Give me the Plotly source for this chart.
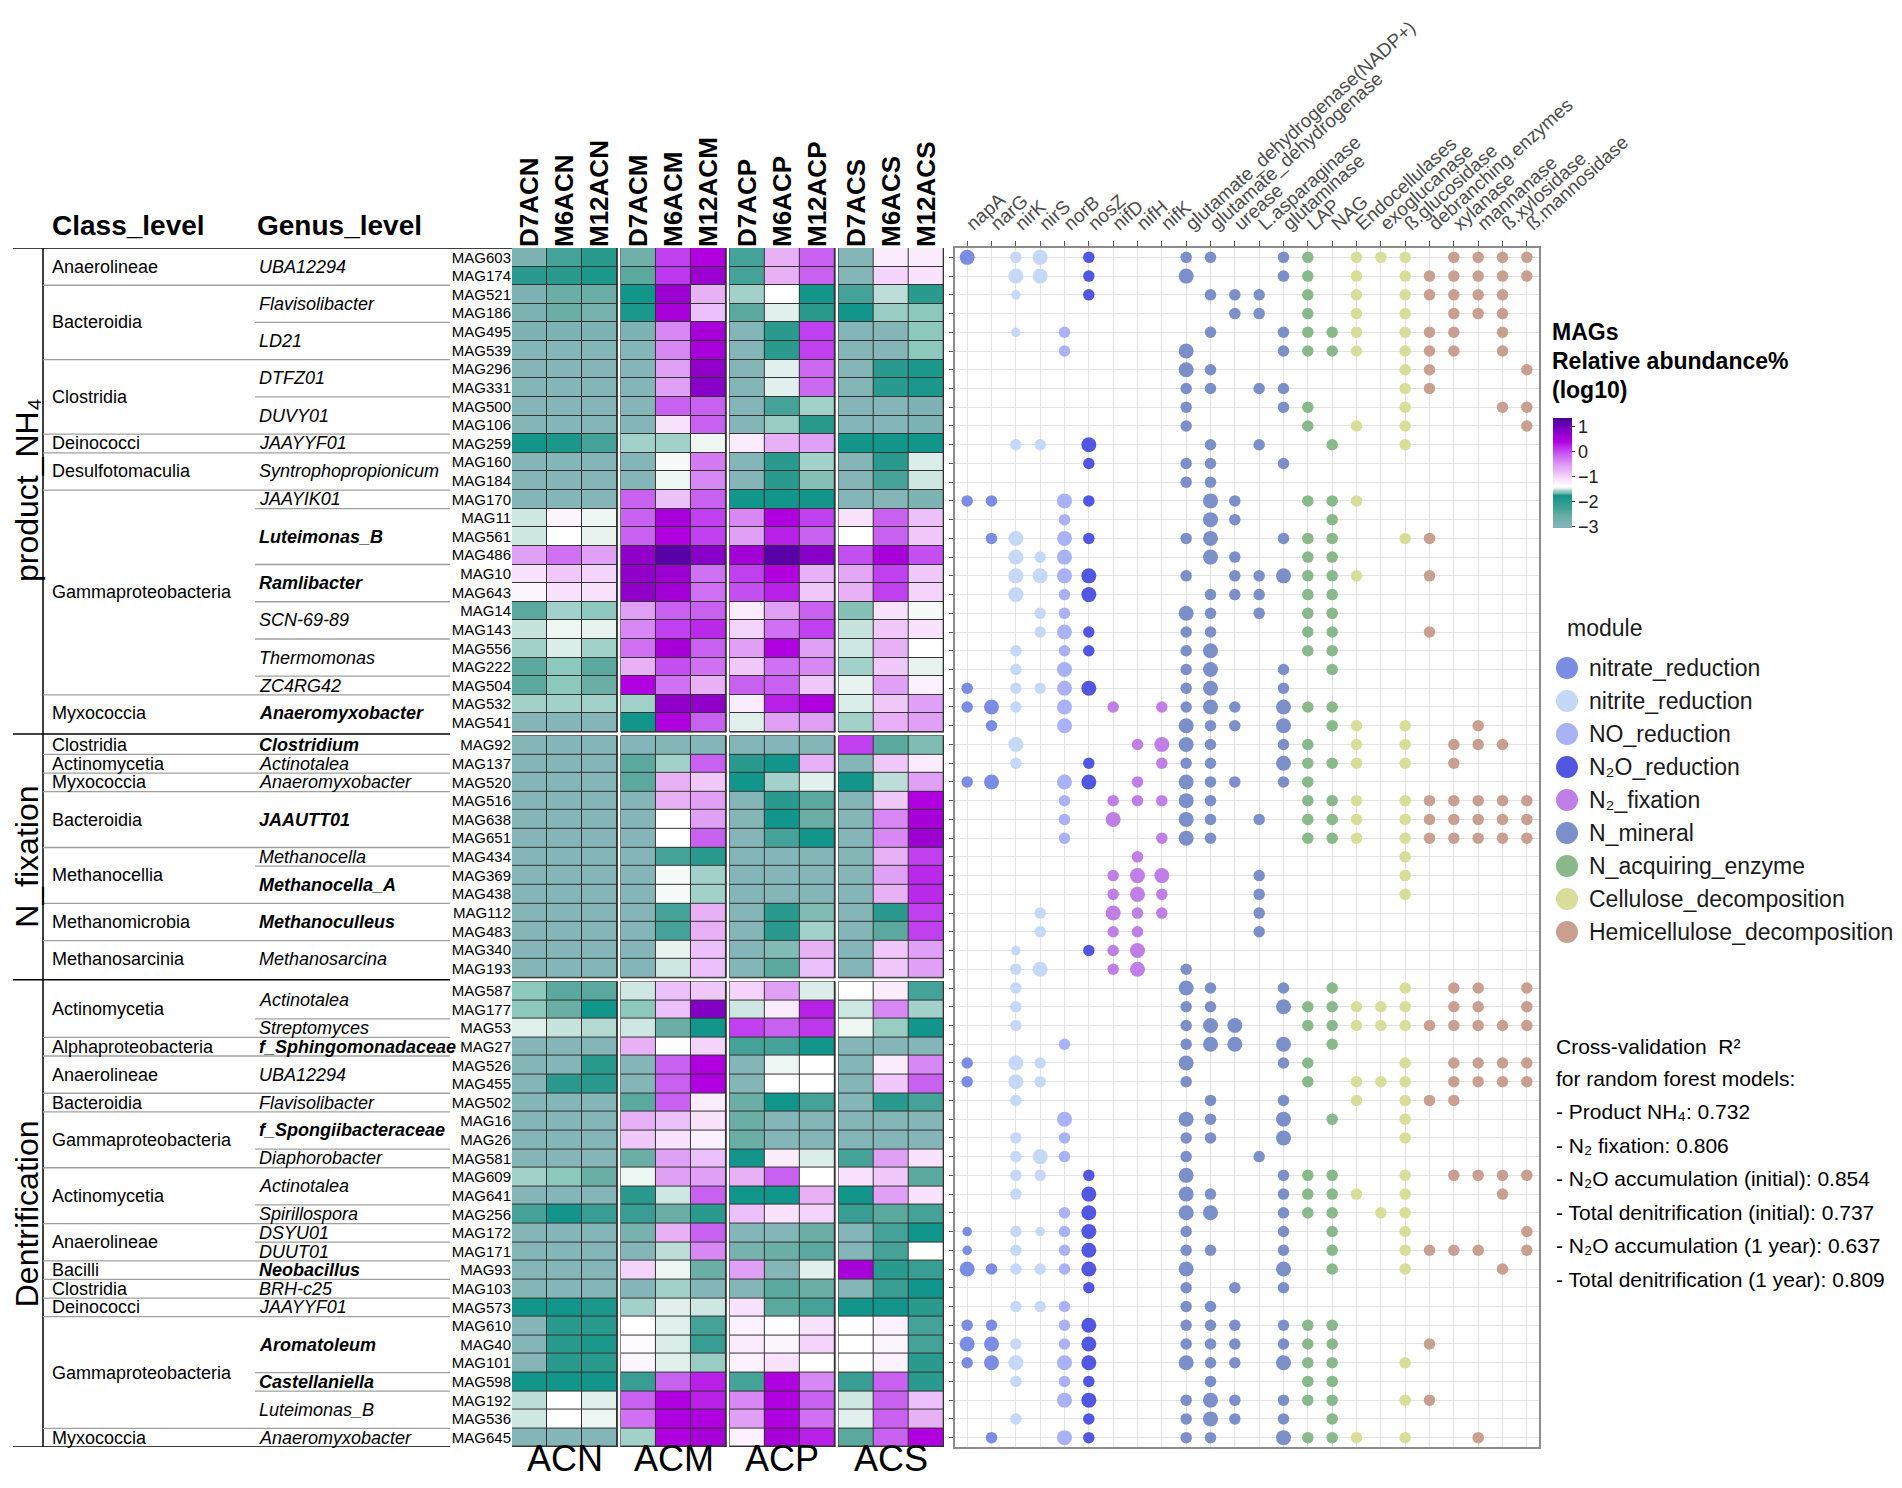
import plotly.graph_objects as go

# The page body has an 8px margin; the figure is sized so the page fits the window exactly
OFF = 8
FW, FH = 1902 - 2 * OFF, 1488 - 2 * OFF
FONT = "Liberation Sans, Arial, sans-serif"

# ---------------- data ----------------
group_names = ["product_NH₄", "N_fixation", "Dentrification"]
group_sizes = [26, 13, 25]

mags = ["MAG603", "MAG174", "MAG521", "MAG186", "MAG495", "MAG539", "MAG296", "MAG331", "MAG500", "MAG106",
        "MAG259", "MAG160", "MAG184", "MAG170", "MAG11", "MAG561", "MAG486", "MAG10", "MAG643", "MAG14",
        "MAG143", "MAG556", "MAG222", "MAG504", "MAG532", "MAG541",
        "MAG92", "MAG137", "MAG520", "MAG516", "MAG638", "MAG651", "MAG434", "MAG369", "MAG438", "MAG112",
        "MAG483", "MAG340", "MAG193",
        "MAG587", "MAG177", "MAG53", "MAG27", "MAG526", "MAG455", "MAG502", "MAG16", "MAG26", "MAG581",
        "MAG609", "MAG641", "MAG256", "MAG172", "MAG171", "MAG93", "MAG103", "MAG573", "MAG610", "MAG40",
        "MAG101", "MAG598", "MAG192", "MAG536", "MAG645"]

class_level = (["Anaerolineae"] * 2 + ["Bacteroidia"] * 4 + ["Clostridia"] * 4 + ["Deinococci"] +
               ["Desulfotomaculia"] * 2 + ["Gammaproteobacteria"] * 11 + ["Myxococcia"] * 2 +
               ["Clostridia", "Actinomycetia", "Myxococcia"] + ["Bacteroidia"] * 3 + ["Methanocellia"] * 3 +
               ["Methanomicrobia"] * 2 + ["Methanosarcinia"] * 2 +
               ["Actinomycetia"] * 3 + ["Alphaproteobacteria"] + ["Anaerolineae"] * 2 + ["Bacteroidia"] +
               ["Gammaproteobacteria"] * 3 + ["Actinomycetia"] * 3 + ["Anaerolineae"] * 2 +
               ["Bacilli", "Clostridia", "Deinococci"] + ["Gammaproteobacteria"] * 6 + ["Myxococcia"])

genus_level = (["UBA12294"] * 2 + ["Flavisolibacter"] * 2 + ["LD21"] * 2 + ["DTFZ01"] * 2 + ["DUVY01"] * 2 +
               ["JAAYYF01"] + ["Syntrophopropionicum"] * 2 + ["JAAYIK01"] + ["Luteimonas_B"] * 3 +
               ["Ramlibacter"] * 2 + ["SCN-69-89"] * 2 + ["Thermomonas"] * 2 + ["ZC4RG42"] +
               ["Anaeromyxobacter"] * 2 +
               ["Clostridium", "Actinotalea", "Anaeromyxobacter"] + ["JAAUTT01"] * 3 + ["Methanocella"] +
               ["Methanocella_A"] * 2 + ["Methanoculleus"] * 2 + ["Methanosarcina"] * 2 +
               ["Actinotalea"] * 2 + ["Streptomyces", "f_Sphingomonadaceae"] + ["UBA12294"] * 2 +
               ["Flavisolibacter"] + ["f_Spongiibacteraceae"] * 2 + ["Diaphorobacter"] + ["Actinotalea"] * 2 +
               ["Spirillospora", "DSYU01", "DUUT01", "Neobacillus", "BRH-c25", "JAAYYF01"] +
               ["Aromatoleum"] * 3 + ["Castellaniella"] + ["Luteimonas_B"] * 2 + ["Anaeromyxobacter"])

genus_bold = ([0] * 14 + [1] * 5 + [0] * 5 + [1] * 2 +
              [1, 0, 0, 1, 1, 1, 0, 1, 1, 1, 1, 0, 0] +
              [0, 0, 0, 1, 0, 0, 0, 1, 1, 0, 0, 0, 0, 0, 0, 1, 0, 0, 1, 1, 1, 1, 0, 0, 0])

samples = ["D7ACN", "M6ACN", "M12ACN", "D7ACM", "M6ACM", "M12ACM",
           "D7ACP", "M6ACP", "M12ACP", "D7ACS", "M6ACS", "M12ACS"]
treatments = ["ACN", "ACM", "ACP", "ACS"]

# log10 relative abundance (%) per MAG x sample
abundance = [
    [-2.9, -2.3, -2.0, -2.7, 0.05, 0.4, -2.3, -0.7, -0.1, -3.0, -1.2, -1.2],
    [-2.0, -2.0, -1.85, -2.45, 0.1, 0.65, -2.3, -0.7, -0.1, -3.0, -1.0, -1.1],
    [-2.9, -2.6, -2.6, -1.75, 0.65, -0.7, -1.55, -1.4, -1.75, -2.3, -1.52, -2.0],
    [-2.9, -2.6, -2.8, -1.85, 0.55, -0.85, -2.45, -1.47, -2.0, -1.75, -1.57, -1.6],
    [-2.9, -2.9, -2.9, -2.9, -0.4, 0.55, -3.0, -2.0, 0.05, -3.0, -3.0, -1.6],
    [-3.0, -3.0, -3.0, -3.0, -0.4, 0.55, -3.0, -2.0, 0.05, -3.0, -3.0, -1.6],
    [-3.0, -3.0, -3.0, -3.0, -0.55, 0.72, -3.0, -1.47, -0.18, -3.0, -2.0, -1.85],
    [-3.0, -3.0, -3.0, -3.0, -0.55, 0.8, -3.0, -1.47, -0.18, -3.0, -2.0, -1.85],
    [-3.0, -3.0, -3.0, -3.0, -0.1, -0.1, -3.0, -2.3, -1.55, -3.0, -3.0, -2.9],
    [-3.0, -3.0, -3.0, -3.0, -1.1, -0.1, -3.0, -1.57, -2.0, -3.0, -3.0, -2.9],
    [-1.75, -1.85, -2.3, -1.55, -1.55, -1.45, -1.2, -0.7, -0.55, -1.75, -1.75, -1.75],
    [-3.0, -3.0, -3.0, -3.0, -1.43, -0.32, -3.0, -2.0, -1.55, -3.0, -2.0, -1.48],
    [-3.0, -3.0, -3.0, -3.0, -1.45, -0.4, -3.0, -2.0, -1.63, -3.0, -2.3, -1.5],
    [-3.0, -3.0, -3.0, -0.1, -0.85, -0.1, -1.75, -1.75, -1.75, -3.0, -3.0, -2.9],
    [-1.5, -1.3, -1.45, -0.1, 0.55, 0.05, -0.4, 0.4, 0.05, -1.1, -0.1, -0.85],
    [-1.5, -1.4, -1.46, -0.1, 0.4, 0.05, -0.55, 0.25, -0.1, -1.4, -0.1, -0.92],
    [-0.55, -0.25, -0.55, 0.72, 1.2, 0.8, 0.6, 1.2, 0.8, -0.02, 0.55, -0.02],
    [-1.1, -0.92, -1.0, 0.72, 0.65, -0.25, 0.05, 0.4, -0.7, -0.62, 0.05, -0.92],
    [-1.3, -1.1, -1.1, 0.72, 0.6, -0.25, -0.02, 0.25, -0.92, -0.7, 0.05, -1.0],
    [-2.45, -1.55, -1.6, -0.55, -0.1, -0.1, -1.2, -0.55, -0.1, -1.63, -1.1, -1.43],
    [-1.51, -1.45, -1.46, -0.4, 0.05, 0.2, -1.0, -0.25, 0.05, -1.51, -0.92, -1.1],
    [-1.55, -1.48, -1.55, -0.25, 0.55, -0.1, -0.55, 0.4, -0.55, -1.5, -0.7, -1.4],
    [-2.45, -1.6, -2.45, -0.7, -0.02, -0.25, -0.92, -0.25, -0.4, -1.55, -0.92, -1.46],
    [-2.45, -1.6, -2.6, 0.4, -0.25, -0.7, -0.1, -0.1, -0.92, -1.46, -0.55, -1.25],
    [-1.55, -1.55, -1.55, -1.55, 0.72, 0.72, -1.2, 0.25, 0.4, -1.48, -0.92, -0.55],
    [-3.0, -3.0, -3.0, -1.75, 0.4, -0.1, -1.47, -0.55, -0.55, -1.55, -0.7, -0.55],
    # N_fixation
    [-3.0, -3.0, -3.0, -3.0, -3.0, -3.0, -3.0, -3.0, -3.0, 0.05, -2.45, -1.65],
    [-3.0, -3.0, -3.0, -2.45, -1.55, -0.1, -2.0, -1.75, -0.7, -3.0, -0.92, -1.2],
    [-3.0, -3.0, -3.0, -2.45, -0.7, -0.92, -1.75, -1.55, -1.47, -1.75, -1.52, -0.55],
    [-3.0, -3.0, -3.0, -3.0, -0.7, -0.55, -3.0, -2.0, -2.45, -3.0, -0.92, 0.4],
    [-3.0, -3.0, -3.0, -3.0, -1.4, -0.55, -3.0, -1.75, -2.6, -3.0, -0.4, 0.55],
    [-3.0, -3.0, -3.0, -3.0, -1.4, -0.1, -3.0, -2.3, -1.75, -3.0, -0.4, 0.65],
    [-3.0, -3.0, -3.0, -3.0, -2.3, -2.0, -3.0, -3.0, -3.0, -3.0, -0.7, 0.05],
    [-3.0, -3.0, -3.0, -3.0, -1.43, -1.55, -3.0, -3.0, -3.0, -3.0, -0.55, 0.2],
    [-3.0, -3.0, -3.0, -3.0, -1.43, -1.55, -3.0, -3.0, -3.0, -3.0, -0.7, 0.2],
    [-3.0, -3.0, -3.0, -3.0, -2.3, -0.7, -3.0, -2.0, -1.65, -3.0, -2.0, 0.05],
    [-3.0, -3.0, -3.0, -3.0, -2.3, -0.7, -3.0, -2.0, -1.55, -3.0, -2.45, 0.05],
    [-3.0, -3.0, -3.0, -3.0, -1.46, -0.85, -3.0, -1.65, -0.7, -3.0, -0.92, -0.55],
    [-3.0, -3.0, -3.0, -3.0, -1.5, -0.85, -3.0, -2.45, -0.85, -3.0, -0.92, -0.55],
    # Dentrification
    [-1.6, -2.45, -2.45, -1.5, -0.85, -0.92, -1.0, -0.55, -1.48, -1.4, -1.2, -2.3],
    [-1.6, -2.6, -1.75, -1.6, -0.85, 0.85, -1.5, -1.2, 0.25, -1.5, -0.4, -1.55],
    [-1.47, -1.51, -1.53, -1.5, -2.6, -1.75, 0.05, -0.1, 0.1, -1.45, -1.57, -1.75],
    [-3.0, -3.0, -3.0, -0.7, -1.4, -1.0, -2.3, -2.3, -1.75, -3.0, -3.0, -3.0],
    [-3.0, -3.0, -2.0, -3.0, -0.1, 0.4, -3.0, -1.45, -1.4, -3.0, -1.2, -0.4],
    [-3.0, -2.0, -2.0, -3.0, -0.1, 0.4, -3.0, -1.4, -1.4, -3.0, -0.92, -0.1],
    [-3.0, -3.0, -3.0, -2.45, -0.1, -1.2, -2.6, -1.75, -2.3, -3.0, -2.0, -2.3],
    [-3.0, -3.0, -3.0, -0.7, -0.85, -1.1, -2.6, -3.0, -3.0, -3.0, -3.0, -3.0],
    [-3.0, -3.0, -3.0, -0.92, -1.1, -1.25, -2.6, -3.0, -3.0, -3.0, -3.0, -3.0],
    [-3.0, -3.0, -3.0, -2.6, -0.55, -0.85, -1.75, -1.2, -1.48, -2.3, -0.55, -1.1],
    [-1.55, -1.6, -2.6, -1.45, -0.55, -0.55, -0.7, -0.1, -1.4, -1.1, -0.92, -2.45],
    [-3.0, -3.0, -3.0, -2.0, -1.5, -0.1, -1.75, -1.75, -0.7, -1.75, -0.55, -1.1],
    [-2.3, -1.75, -2.15, -2.15, -2.6, -2.0, -0.85, -1.1, -1.0, -2.15, -2.45, -2.3],
    [-3.0, -3.0, -3.0, -2.8, -0.7, -0.1, -3.0, -3.0, -2.6, -3.0, -2.3, -1.75],
    [-3.0, -3.0, -3.0, -3.0, -1.52, -0.4, -2.8, -2.6, -2.45, -3.0, -2.3, -1.4],
    [-3.0, -3.0, -3.0, -1.0, -1.45, -2.6, -0.55, -3.0, -1.47, 0.55, -2.0, -2.15],
    [-3.0, -3.0, -3.0, -3.0, -1.55, -3.0, -3.0, -2.45, -2.6, -3.0, -2.15, -1.75],
    [-1.75, -1.75, -1.85, -1.55, -1.47, -1.5, -1.1, -2.45, -2.3, -1.75, -1.75, -2.0],
    [-3.0, -2.0, -2.0, -1.4, -1.47, -2.3, -1.25, -1.4, -1.1, -1.4, -1.25, -2.3],
    [-3.0, -2.0, -1.85, -1.35, -1.48, -2.15, -1.2, -1.3, -1.0, -1.4, -1.3, -2.3],
    [-3.0, -2.0, -2.0, -1.3, -1.47, -1.57, -1.25, -1.1, -1.4, -1.4, -1.25, -2.0],
    [-1.75, -1.75, -1.75, -2.15, -0.1, 0.25, -2.3, 0.4, -0.4, -2.15, -0.1, -2.0],
    [-1.52, -1.4, -1.47, -0.1, 0.4, 0.25, -0.4, 0.4, -0.1, -1.5, -0.1, -0.85],
    [-1.5, -1.4, -1.45, -0.25, 0.4, 0.4, -0.55, 0.4, -0.25, -1.47, -0.1, -0.7],
    [-3.0, -3.0, -3.0, -1.55, 0.4, 0.55, -1.25, 0.55, 0.25, -2.45, -0.1, 0.4],
]

genes = ["napA", "narG", "nirK", "nirS", "norB", "nosZ", "nifD", "nifH", "nifK",
         "glutamate_dehydrogenase(NADP+)", "glutamate_dehydrogenase", "urease", "L.asparaginase",
         "glutaminase", "LAP", "NAG", "Endocellulases", "exoglucanase", "ß.glucosidase",
         "debranching.enzymes", "xylanase", "mannanase", "ß.xylosidase", "ß.mannosidase"]
gene_module = [0, 0, 1, 1, 2, 3, 4, 4, 4, 5, 5, 5, 5, 5, 6, 6, 7, 7, 7, 8, 8, 8, 8, 8]

modules = ["nitrate_reduction", "nitrite_reduction", "NO_reduction", "N₂O_reduction", "N₂_fixation",
           "N_mineral", "N_acquiring_enzyme", "Cellulose_decomposition", "Hemicellulose_decomposition"]
module_colors = ["#7a8ce3", "#c6d8f7", "#a9b2f4", "#5157e0", "#c07fe6",
                 "#7b90c9", "#89b98a", "#d9dd9a", "#c9a08f"]

# gene abundance class per MAG x gene (0 = absent, 1-3 = increasing)
gene_levels = [
    [3, 0, 2, 3, 0, 2, 0, 0, 0, 2, 2, 0, 0, 2, 2, 0, 2, 2, 2, 0, 2, 2, 2, 2],
    [0, 0, 3, 3, 0, 2, 0, 0, 0, 3, 0, 0, 0, 2, 2, 0, 2, 0, 2, 2, 2, 2, 2, 2],
    [0, 0, 1, 0, 0, 2, 0, 0, 0, 0, 2, 2, 2, 0, 2, 0, 2, 0, 2, 2, 2, 2, 2, 0],
    [0, 0, 0, 0, 0, 0, 0, 0, 0, 0, 0, 2, 2, 0, 2, 0, 2, 0, 2, 0, 2, 2, 2, 0],
    [0, 0, 1, 0, 2, 0, 0, 0, 0, 0, 2, 0, 0, 2, 2, 2, 2, 0, 2, 2, 2, 0, 2, 0],
    [0, 0, 0, 0, 2, 0, 0, 0, 0, 3, 0, 0, 0, 2, 2, 2, 2, 0, 2, 2, 2, 0, 2, 0],
    [0, 0, 0, 0, 0, 0, 0, 0, 0, 3, 2, 0, 0, 0, 0, 0, 0, 0, 2, 2, 0, 0, 0, 2],
    [0, 0, 0, 0, 0, 0, 0, 0, 0, 2, 2, 0, 2, 2, 0, 0, 0, 0, 2, 2, 0, 0, 0, 0],
    [0, 0, 0, 0, 0, 0, 0, 0, 0, 2, 0, 0, 0, 2, 2, 0, 0, 0, 2, 0, 0, 0, 2, 2],
    [0, 0, 0, 0, 0, 0, 0, 0, 0, 2, 0, 0, 0, 0, 2, 0, 2, 0, 2, 0, 0, 0, 0, 2],
    [0, 0, 2, 2, 0, 3, 0, 0, 0, 0, 2, 0, 2, 0, 0, 2, 0, 0, 2, 0, 0, 0, 0, 0],
    [0, 0, 0, 0, 0, 2, 0, 0, 0, 2, 2, 0, 0, 2, 0, 0, 0, 0, 0, 0, 0, 0, 0, 0],
    [0, 0, 0, 0, 0, 0, 0, 0, 0, 2, 2, 0, 0, 0, 0, 0, 0, 0, 0, 0, 0, 0, 0, 0],
    [2, 2, 0, 0, 3, 2, 0, 0, 0, 0, 3, 2, 0, 0, 2, 2, 2, 0, 0, 0, 0, 0, 0, 0],
    [0, 0, 0, 0, 2, 0, 0, 0, 0, 0, 3, 2, 0, 0, 0, 2, 0, 0, 0, 0, 0, 0, 0, 0],
    [0, 2, 3, 0, 3, 2, 0, 0, 0, 2, 3, 0, 0, 2, 2, 2, 0, 0, 2, 2, 0, 0, 0, 0],
    [0, 0, 3, 2, 3, 0, 0, 0, 0, 0, 3, 2, 0, 0, 2, 2, 0, 0, 0, 0, 0, 0, 0, 0],
    [0, 0, 3, 3, 3, 3, 0, 0, 0, 2, 0, 2, 2, 3, 2, 2, 2, 0, 0, 2, 0, 0, 0, 0],
    [0, 0, 3, 0, 2, 3, 0, 0, 0, 0, 2, 2, 2, 0, 2, 2, 0, 0, 0, 0, 0, 0, 0, 0],
    [0, 0, 0, 2, 2, 0, 0, 0, 0, 3, 2, 0, 2, 0, 2, 2, 0, 0, 0, 0, 0, 0, 0, 0],
    [0, 0, 0, 2, 3, 2, 0, 0, 0, 2, 2, 0, 0, 0, 2, 2, 0, 0, 0, 2, 0, 0, 0, 0],
    [0, 0, 2, 0, 2, 2, 0, 0, 0, 2, 3, 0, 0, 0, 2, 2, 0, 0, 0, 0, 0, 0, 0, 0],
    [0, 0, 2, 0, 3, 0, 0, 0, 0, 2, 3, 0, 0, 2, 0, 2, 0, 0, 0, 0, 0, 0, 0, 0],
    [2, 0, 2, 2, 3, 3, 0, 0, 0, 2, 3, 0, 0, 2, 0, 0, 0, 0, 0, 0, 0, 0, 0, 0],
    [2, 3, 2, 0, 3, 0, 2, 0, 2, 2, 3, 2, 0, 3, 2, 2, 0, 0, 0, 0, 0, 0, 0, 0],
    [0, 2, 0, 0, 3, 0, 0, 0, 0, 3, 2, 2, 0, 3, 0, 2, 2, 0, 2, 0, 0, 2, 0, 0],
    [0, 0, 3, 0, 0, 0, 0, 2, 3, 3, 2, 0, 0, 2, 2, 0, 2, 0, 2, 0, 2, 2, 2, 0],
    [0, 0, 2, 0, 0, 2, 0, 0, 2, 2, 2, 0, 0, 3, 2, 2, 2, 0, 2, 0, 2, 0, 0, 0],
    [2, 3, 0, 0, 3, 3, 0, 2, 0, 3, 2, 2, 0, 2, 2, 0, 0, 0, 0, 0, 0, 0, 0, 0],
    [0, 0, 0, 0, 2, 0, 2, 2, 2, 3, 2, 0, 0, 0, 2, 2, 2, 0, 2, 2, 2, 2, 2, 2],
    [0, 0, 0, 0, 2, 0, 3, 0, 0, 3, 2, 0, 2, 0, 2, 2, 2, 0, 2, 2, 2, 2, 2, 2],
    [0, 0, 0, 0, 2, 0, 0, 0, 2, 3, 2, 0, 0, 0, 2, 2, 2, 0, 2, 2, 2, 2, 2, 2],
    [0, 0, 0, 0, 0, 0, 0, 2, 0, 0, 0, 0, 0, 0, 0, 0, 0, 0, 2, 0, 0, 0, 0, 0],
    [0, 0, 0, 0, 0, 0, 2, 3, 3, 0, 0, 0, 2, 0, 0, 0, 0, 0, 2, 0, 0, 0, 0, 0],
    [0, 0, 0, 0, 0, 0, 2, 3, 2, 0, 0, 0, 2, 0, 0, 0, 0, 0, 2, 0, 0, 0, 0, 0],
    [0, 0, 0, 2, 0, 0, 3, 2, 2, 0, 0, 0, 2, 0, 0, 0, 0, 0, 0, 0, 0, 0, 0, 0],
    [0, 0, 0, 2, 0, 0, 2, 2, 0, 0, 0, 0, 2, 0, 0, 0, 0, 0, 0, 0, 0, 0, 0, 0],
    [0, 0, 1, 0, 0, 2, 2, 3, 0, 0, 0, 0, 0, 0, 0, 0, 0, 0, 0, 0, 0, 0, 0, 0],
    [0, 0, 2, 3, 0, 0, 2, 3, 0, 2, 0, 0, 0, 0, 0, 0, 0, 0, 0, 0, 0, 0, 0, 0],
    [0, 0, 2, 0, 0, 0, 0, 0, 0, 3, 2, 0, 0, 2, 0, 2, 0, 0, 2, 0, 2, 2, 0, 2],
    [0, 0, 2, 0, 0, 0, 0, 0, 0, 2, 2, 0, 0, 3, 2, 2, 2, 2, 2, 0, 2, 2, 0, 2],
    [0, 0, 2, 0, 0, 0, 0, 0, 0, 2, 3, 3, 0, 0, 2, 2, 2, 2, 2, 2, 2, 2, 2, 2],
    [0, 0, 0, 0, 2, 0, 0, 0, 0, 2, 3, 3, 0, 3, 0, 2, 0, 0, 0, 0, 0, 0, 0, 0],
    [2, 0, 3, 2, 0, 0, 0, 0, 0, 3, 0, 0, 0, 2, 2, 0, 0, 0, 2, 0, 2, 2, 2, 2],
    [2, 0, 3, 2, 0, 0, 0, 0, 0, 2, 0, 0, 0, 0, 2, 0, 2, 2, 2, 0, 2, 2, 2, 2],
    [0, 0, 2, 0, 0, 0, 0, 0, 0, 0, 2, 0, 0, 2, 0, 0, 2, 0, 2, 2, 2, 0, 0, 0],
    [0, 0, 0, 0, 3, 0, 0, 0, 0, 3, 2, 0, 0, 3, 0, 2, 0, 0, 2, 0, 0, 0, 0, 0],
    [0, 0, 2, 0, 2, 0, 0, 0, 0, 2, 2, 0, 0, 3, 0, 0, 0, 0, 2, 0, 0, 0, 0, 0],
    [0, 0, 2, 3, 2, 0, 0, 0, 0, 2, 0, 0, 2, 0, 0, 0, 0, 0, 0, 0, 0, 0, 0, 0],
    [0, 0, 2, 2, 0, 2, 0, 0, 0, 3, 0, 0, 0, 2, 2, 2, 0, 0, 2, 0, 2, 2, 2, 2],
    [0, 0, 2, 0, 0, 3, 0, 0, 0, 3, 2, 0, 0, 2, 2, 2, 2, 0, 2, 0, 0, 0, 2, 0],
    [0, 0, 0, 0, 2, 3, 0, 0, 0, 3, 3, 0, 0, 2, 2, 2, 0, 2, 2, 0, 0, 0, 0, 0],
    [1, 0, 2, 1, 2, 3, 0, 0, 0, 2, 0, 0, 0, 2, 0, 2, 0, 0, 2, 0, 0, 0, 0, 2],
    [1, 0, 2, 0, 2, 3, 0, 0, 0, 2, 2, 0, 0, 2, 0, 2, 0, 0, 2, 2, 2, 2, 0, 2],
    [3, 2, 2, 2, 2, 3, 0, 0, 0, 3, 0, 0, 0, 3, 0, 2, 0, 0, 2, 0, 0, 0, 2, 0],
    [0, 0, 0, 0, 0, 2, 0, 0, 0, 2, 0, 2, 0, 2, 0, 0, 0, 0, 0, 0, 0, 0, 0, 0],
    [0, 0, 2, 2, 2, 0, 0, 0, 0, 2, 2, 0, 0, 0, 0, 0, 0, 0, 0, 0, 0, 0, 0, 0],
    [2, 2, 0, 0, 2, 3, 0, 0, 0, 2, 2, 2, 0, 2, 2, 2, 0, 0, 0, 0, 0, 0, 0, 0],
    [3, 3, 2, 0, 2, 3, 0, 0, 0, 2, 2, 2, 0, 2, 2, 2, 0, 0, 0, 2, 0, 0, 0, 0],
    [2, 3, 3, 0, 3, 3, 0, 0, 0, 3, 2, 2, 0, 3, 2, 2, 0, 0, 2, 0, 0, 0, 0, 0],
    [0, 0, 2, 0, 2, 2, 0, 0, 0, 0, 2, 0, 0, 0, 2, 2, 0, 0, 0, 0, 0, 0, 0, 0],
    [0, 0, 0, 0, 3, 3, 0, 0, 0, 2, 3, 2, 0, 2, 2, 2, 0, 0, 2, 2, 0, 0, 0, 0],
    [0, 0, 2, 0, 0, 2, 0, 0, 0, 2, 3, 2, 0, 2, 0, 2, 0, 0, 0, 0, 0, 0, 0, 0],
    [0, 2, 0, 0, 3, 2, 0, 0, 0, 2, 2, 0, 0, 3, 2, 2, 2, 0, 2, 0, 0, 2, 0, 0],
]

cv_lines = ["Cross-validation  R²", "for random forest models:", "- Product NH₄: 0.732",
            "- N₂ fixation: 0.806", "- N₂O accumulation (initial): 0.854",
            "- Total denitrification (initial): 0.737", "- N₂O accumulation (1 year): 0.637",
            "- Total denitrification (1 year): 0.809"]

# ---------------- layout helpers (window pixel -> paper fraction) ----------------
def X(p):
    return (p - OFF) / FW

def Y(p):
    return 1 - (p - OFF) / FH

n_rows = len(mags)
group_of_row = []
for g, n in enumerate(group_sizes):
    group_of_row += [g] * n

ROW_GAP = 0.2
COL_GAP = 0.1
row_y = [i + group_of_row[i] * ROW_GAP for i in range(n_rows)]
col_x = [(j // 3) * (3 + COL_GAP) + (j % 3) for j in range(len(samples))]

TOP_PX, BOT_PX = 248, 1447
y_dom = [Y(BOT_PX), Y(TOP_PX)]

size_px = {1: 9.5, 2: 11.5, 3: 15}

CMIN, CMAX = -3.05, 1.35
cs_stops = [(-3.05, "#7fb1b4"), (-3.0, "#84b5b7"), (-2.6, "#6aaea6"), (-2.45, "#5aa89e"),
            (-2.3, "#45a298"), (-2.0, "#2a9a8e"), (-1.75, "#12958a"), (-1.65, "#80bcb4"),
            (-1.6, "#8cc8bc"), (-1.55, "#a2d1c9"), (-1.5, "#cfe7e2"), (-1.45, "#eef6f4"),
            (-1.4, "#ffffff"), (-1.1, "#f8e2fc"), (-1.0, "#f4d4fa"), (-0.85, "#ecc0fa"),
            (-0.7, "#e8b0f5"), (-0.55, "#e0a0f5"), (-0.4, "#d888f5"), (-0.25, "#d070f2"),
            (-0.1, "#c860f0"), (0.05, "#c040f0"), (0.25, "#b820e8"), (0.4, "#b000e0"),
            (0.55, "#a800d8"), (0.65, "#9c00d0"), (0.72, "#9000c8"), (0.8, "#8800c8"),
            (1.2, "#5a00a8"), (1.35, "#4b0090")]
colorscale = [[(v - CMIN) / (CMAX - CMIN), c] for v, c in cs_stops]

fig = go.Figure()
shapes = []
annotations = []

# ---------------- heatmap blocks ----------------
for g in range(len(group_sizes)):
    rows = [i for i in range(n_rows) if group_of_row[i] == g]
    for t in range(len(treatments)):
        cols = [t * 3 + k for k in range(3)]
        fig.add_trace(go.Heatmap(
            z=[[abundance[i][c] for c in cols] for i in rows],
            x=[col_x[c] for c in cols], y=[row_y[i] for i in rows],
            coloraxis="coloraxis", xgap=1, ygap=1, hoverinfo="skip",
            xaxis="x", yaxis="y"))
        shapes.append(dict(type="rect", xref="x", yref="y", layer="below",
                           x0=col_x[cols[0]] - 0.5, x1=col_x[cols[-1]] + 0.5,
                           y0=row_y[rows[0]] - 0.5, y1=row_y[rows[-1]] + 0.5,
                           fillcolor="#333333", line=dict(color="#333333", width=1)))

# ---------------- dot plot ----------------
for m in range(len(modules)):
    xs, ys, ss = [], [], []
    for i in range(n_rows):
        for j in range(len(genes)):
            lv = gene_levels[i][j]
            if lv > 0 and gene_module[j] == m:
                xs.append(j)
                ys.append(i)
                ss.append(size_px[lv])
    fig.add_trace(go.Scatter(x=xs, y=ys, mode="markers", xaxis="x2", yaxis="y2",
                             marker=dict(color=module_colors[m], size=ss, line=dict(width=0), opacity=1),
                             hoverinfo="skip", showlegend=False))

# ---------------- module legend ----------------
LEG_L = 1550
fig.add_trace(go.Scatter(x=[1567 - LEG_L] * len(modules), y=list(range(len(modules))), mode="markers",
                         xaxis="x3", yaxis="y3",
                         marker=dict(color=module_colors, size=22, line=dict(width=0)),
                         hoverinfo="skip", showlegend=False))
for m, name in enumerate(modules):
    annotations.append(dict(x=1587 - LEG_L, y=m, xref="x3", yref="y3", text=name, showarrow=False,
                            xanchor="left", yanchor="middle", font=dict(size=23, color="#1a1a1a")))
annotations.append(dict(x=X(1565), y=Y(628), xref="paper", yref="paper", text="module",
                        showarrow=False, xanchor="left", yanchor="middle",
                        font=dict(size=23, color="#1a1a1a")))

# ---------------- colorbar title ----------------
for k, line in enumerate(["MAGs", "Relative abundance%", "(log10)"]):
    annotations.append(dict(x=X(1550), y=Y(332 + 29 * k), xref="paper", yref="paper",
                            text="<b>" + line + "</b>", showarrow=False, xanchor="left",
                            yanchor="middle", font=dict(size=23, color="black")))

# ---------------- cross-validation text ----------------
cv_y = [1046, 1078, 1111, 1145, 1178, 1212, 1245, 1279]
for k, line in enumerate(cv_lines):
    annotations.append(dict(x=X(1554), y=Y(cv_y[k]), xref="paper", yref="paper", text=line,
                            showarrow=False, xanchor="left", yanchor="middle",
                            font=dict(size=21, color="black")))

# ---------------- treatment labels at bottom ----------------
for t, name in enumerate(treatments):
    annotations.append(dict(x=col_x[t * 3 + 1], y=0, xref="x", yref="paper", text=name,
                            showarrow=False, xanchor="center", yanchor="bottom", borderpad=0,
                            font=dict(size=36, color="black")))

# ---------------- left table ----------------
annotations.append(dict(x=X(50), y=Y(225), xref="paper", yref="paper", text="<b>Class_level</b>",
                        showarrow=False, xanchor="left", yanchor="middle", font=dict(size=28)))
annotations.append(dict(x=X(255), y=Y(225), xref="paper", yref="paper", text="<b>Genus_level</b>",
                        showarrow=False, xanchor="left", yanchor="middle", font=dict(size=28)))

def boundary(i):
    return (row_y[i] + row_y[i + 1]) / 2

top_b = row_y[0] - 0.5
bot_b = row_y[-1] + 0.5
shapes.append(dict(type="line", xref="paper", yref="y", x0=X(13), x1=X(512), y0=top_b, y1=top_b,
                   line=dict(color="black", width=1.5)))
shapes.append(dict(type="line", xref="paper", yref="y", x0=X(13), x1=X(450), y0=bot_b, y1=bot_b,
                   line=dict(color="black", width=1.5)))
shapes.append(dict(type="line", xref="paper", yref="y", x0=X(43), x1=X(43), y0=top_b, y1=bot_b,
                   line=dict(color="black", width=1.5)))

start = 0
for g, n in enumerate(group_sizes):
    end = start + n - 1
    annotations.append(dict(x=X(8), y=(row_y[start] + row_y[end]) / 2, xref="paper", yref="y",
                            text=group_names[g], textangle=-90, showarrow=False, borderpad=0,
                            xanchor="left", yanchor="middle", font=dict(size=32, color="black")))
    if end < n_rows - 1:
        b = boundary(end)
        shapes.append(dict(type="line", xref="paper", yref="y", x0=X(13), x1=X(450), y0=b, y1=b,
                           line=dict(color="black", width=1.5)))
    start = end + 1

i = 0
while i < n_rows:
    j = i
    while (j + 1 < n_rows and class_level[j + 1] == class_level[i]
           and group_of_row[j + 1] == group_of_row[i]):
        j += 1
    annotations.append(dict(x=X(50), y=(row_y[i] + row_y[j]) / 2, xref="paper", yref="y",
                            text=class_level[i], showarrow=False, xanchor="left", yanchor="middle",
                            font=dict(size=18, color="black")))
    if j < n_rows - 1 and group_of_row[j + 1] == group_of_row[j]:
        b = boundary(j)
        shapes.append(dict(type="line", xref="paper", yref="y", x0=X(43), x1=X(450), y0=b, y1=b,
                           line=dict(color="#a0a0a0", width=1.3)))
    a = i
    while a <= j:
        c = a
        while c + 1 <= j and genus_level[c + 1] == genus_level[a]:
            c += 1
        txt = "<i>" + genus_level[a] + "</i>"
        if genus_bold[a]:
            txt = "<b>" + txt + "</b>"
        annotations.append(dict(x=X(257), y=(row_y[a] + row_y[c]) / 2, xref="paper", yref="y",
                                text=txt, showarrow=False, xanchor="left", yanchor="middle",
                                font=dict(size=18, color="black")))
        if c < j:
            b = boundary(c)
            shapes.append(dict(type="line", xref="paper", yref="y", x0=X(255), x1=X(450), y0=b, y1=b,
                               line=dict(color="#a0a0a0", width=1.3)))
        a = c + 1
    i = j + 1

# ---------------- layout ----------------
fig.update_layout(
    width=FW, height=FH, autosize=False, margin=dict(l=0, r=0, t=0, b=0, pad=0),
    paper_bgcolor="white", plot_bgcolor="white",
    font=dict(family=FONT, color="black"),
    showlegend=False,
    xaxis=dict(domain=[X(512), X(944)], range=[col_x[0] - 0.5, col_x[-1] + 0.5], anchor="y",
               side="top", tickmode="array", tickvals=col_x, ticktext=samples, tickangle=-90,
               tickfont=dict(size=26, color="black", weight="bold"), ticks="", automargin=False,
               showgrid=False, zeroline=False, showline=False, fixedrange=True),
    yaxis=dict(domain=y_dom, range=[row_y[-1] + 0.5, row_y[0] - 0.5], anchor="x",
               tickmode="array", tickvals=row_y, ticktext=mags, tickfont=dict(size=15, color="black"),
               ticks="", showgrid=False, zeroline=False, showline=False, fixedrange=True,
               automargin=False),
    xaxis2=dict(domain=[X(955), X(1539)], range=[-0.5, len(genes) - 0.5], anchor="y2",
                side="top", tickmode="array", tickvals=list(range(len(genes))), ticktext=genes,
                tickangle=-42, tickfont=dict(size=19, color="#4d4d4d"),
                ticks="outside", ticklen=5, tickcolor="#555", tickwidth=1, automargin=False,
                showgrid=True, gridcolor="#e3e3e3", gridwidth=1, zeroline=False,
                showline=True, mirror=True, linecolor="#8c8c8c", linewidth=1.5, fixedrange=True),
    yaxis2=dict(domain=y_dom, range=[n_rows - 0.5, -0.5], anchor="x2",
                tickmode="array", tickvals=list(range(n_rows)), showticklabels=False,
                ticks="outside", ticklen=4, tickcolor="#555", tickwidth=1, automargin=False,
                showgrid=True, gridcolor="#e3e3e3", gridwidth=1, zeroline=False,
                showline=True, mirror=True, linecolor="#8c8c8c", linewidth=1.5, fixedrange=True),
    xaxis3=dict(domain=[X(LEG_L), 1.0], range=[0, FW + OFF - LEG_L], visible=False,
                fixedrange=True, automargin=False),
    yaxis3=dict(domain=[Y(948.5), Y(651.5)], range=[len(modules) - 0.5, -0.5],
                visible=False, fixedrange=True, automargin=False),
    coloraxis=dict(cmin=CMIN, cmax=CMAX, colorscale=colorscale,
                   colorbar=dict(x=X(1553), xanchor="left", xpad=0, y=Y(473), yanchor="middle",
                                 ypad=0, len=110, lenmode="pixels", thickness=19, thicknessmode="pixels",
                                 tickmode="array", tickvals=[1, 0, -1, -2, -3], ticks="outside",
                                 ticklen=3, tickcolor="#333", tickfont=dict(size=18, color="#222"),
                                 outlinewidth=0, title=dict(text=""))),
    shapes=shapes,
    annotations=annotations,
)

fig.write_html("out.html")
